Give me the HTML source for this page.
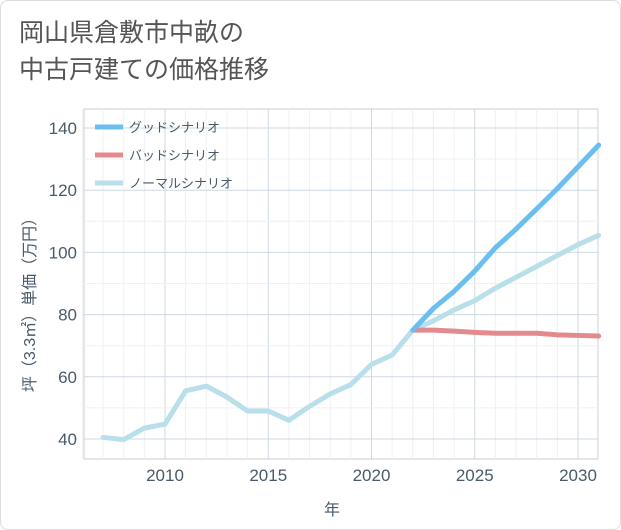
<!DOCTYPE html>
<html><head><meta charset="utf-8">
<style>
body{margin:0;background:#fff;}
#wrap{position:relative;width:619px;height:528px;border:1px solid #ddd;border-radius:8px;background:#fff;overflow:hidden;}
#title{position:absolute;left:18px;top:14px;font:25px "Liberation Sans","Noto Sans CJK JP",sans-serif;color:#555;line-height:37px;}
svg text{font-family:"Liberation Sans","Noto Sans CJK JP",sans-serif;}
</style></head><body>
<div id="wrap">
<div id="title">岡山県倉敷市中畝の<br>中古戸建ての価格推移</div>
<svg id="chart" width="621" height="530" style="position:absolute;left:0;top:0"></svg>
</div>
<script>
const years=[2007,2008,2009,2010,2011,2012,2013,2014,2015,2016,2017,2018,2019,2020,2021,2022,2023,2024,2025,2026,2027,2028,2029,2030,2031];
const normalVals=[40.5,39.8,43.5,44.8,55.5,57,53.5,49,49,46,50.5,54.5,57.5,64,67,75,78,81.5,84.5,88.5,92,95.5,99,102.5,105.5];
const futureYears=[2022,2023,2024,2025,2026,2027,2028,2029,2030,2031];
const goodVals=[75,82,87.5,94,101.5,107.5,114,120.5,127.5,134.5];
const badVals=[75,75,74.7,74.3,74,74,74,73.5,73.3,73.1];
const xTicks=[2010,2015,2020,2025,2030];
const yTicks=[40,60,80,100,120,140];
const legendLabels=["グッドシナリオ","バッドシナリオ","ノーマルシナリオ"];
const legendColors=["#6bbff0","#e38a8e","#b9dfea"];

const L=83,R=597,T=108,B=458;
const x=v=>164+(v-2010)*20.65;
const y=v=>438-(v-40)*3.11;
const svg=document.getElementById('chart');
const NS='http://www.w3.org/2000/svg';
function mk(t,a){const e=document.createElementNS(NS,t);for(const k in a)e.setAttribute(k,a[k]);svg.appendChild(e);return e;}
let bg=mk('rect',{x:L,y:T,width:R-L,height:B-T,fill:'#fff',stroke:'#ccc'});


for(let yr=2006;yr<=2031;yr++){const g=mk('line',{x1:x(yr),x2:x(yr),y1:T,y2:B,stroke:xTicks.includes(yr)?'#cfd8e3':'#eef1f5'});

}
for(let v=40;v<=150;v+=10){if(y(v)<T)continue;const g=mk('line',{x1:L,x2:R,y1:y(v),y2:y(v),stroke:v%20==0?'#cfd8e3':'#eef1f5'});

}
xTicks.forEach(t=>{const e=mk('text',{x:x(t),y:480,'text-anchor':'middle','font-size':17,fill:'#4a5a6a'});e.textContent=t;

});
yTicks.forEach(t=>{const e=mk('text',{x:76,y:y(t)+6,'text-anchor':'end','font-size':17,fill:'#4a5a6a'});e.textContent=t;

});
let xt=mk('text',{x:331,y:514,'text-anchor':'middle','font-size':16,fill:'#4a5a6a'});xt.textContent='年';


let yt=mk('text',{x:0,y:0,'text-anchor':'middle','font-size':16,fill:'#4a5a6a',transform:'translate(34,300) rotate(-90)'});yt.textContent='坪（3.3㎡）単価（万円）';


function line(xs,vs,c,name){const p=mk('polyline',{points:xs.map((yr,i)=>x(yr)+','+y(vs[i])).join(' '),fill:'none',stroke:c,'stroke-width':5,'stroke-linejoin':'round','stroke-linecap':'round'});

}
line(years,normalVals,legendColors[2],'normal-scenario-line');
line(futureYears,badVals,legendColors[1],'bad-scenario-line');
line(futureYears,goodVals,legendColors[0],'good-scenario-line');
legendLabels.forEach((lb,i)=>{const yy=126+i*28;
const l=mk('line',{x1:94,x2:122,y1:yy,y2:yy,stroke:legendColors[i],'stroke-width':5});


const t=mk('text',{x:128,y:yy+5,'font-size':13,fill:'#4a5a6a'});t.textContent=lb;

});
</script>
</body></html>
